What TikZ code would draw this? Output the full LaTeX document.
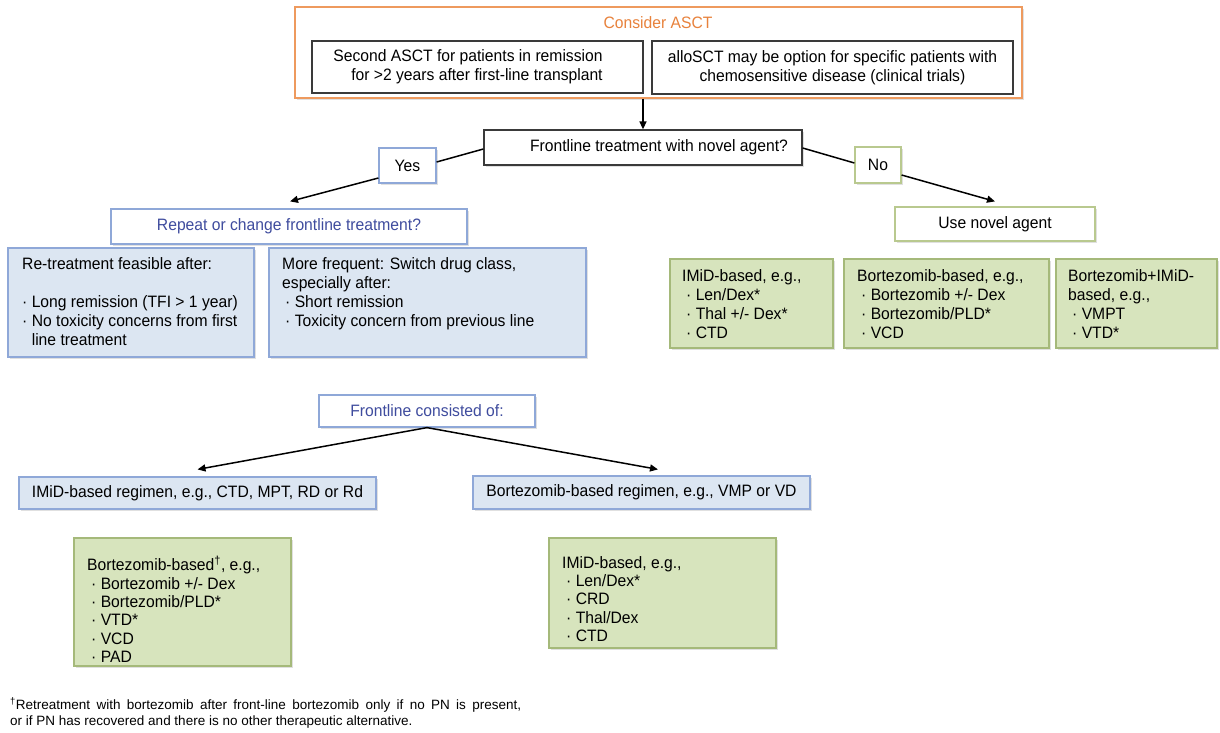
\documentclass[tikz,border=0pt]{standalone}
\usepackage{fontspec}
\setmainfont{Liberation Sans}[FakeStretch=0.95]
\newfontfamily\fnfont{Liberation Sans}
\usetikzlibrary{arrows.meta,calc,shadows}
\definecolor{ora}{HTML}{EE9A5E}
\definecolor{oratext}{HTML}{E8823C}
\definecolor{dgray}{HTML}{3A3A3A}
\definecolor{bluebd}{HTML}{8FA8D8}
\definecolor{bluefill}{HTML}{DCE6F2}
\definecolor{bluetxt}{HTML}{3F4C9E}
\definecolor{greenfill}{HTML}{D7E4BD}
\definecolor{greenbd}{HTML}{A5B97A}
\definecolor{greenbdl}{HTML}{B9C98F}
\begin{document}
\begin{tikzpicture}[x=1pt,y=-1pt,
  every node/.style={font=\fontsize{16.5}{19}\selectfont, inner sep=0pt},
  bx/.style 2 args={minimum width=#1, minimum height=#2},
  shd/.style={drop shadow={shadow xshift=1.5pt,shadow yshift=-1.5pt,opacity=0.3,fill=black!40}},
  dbox/.style={draw=dgray, line width=1.3pt, fill=white},
  obox/.style={draw=ora, line width=1.3pt, fill=white},
  wblue/.style={draw=bluebd, line width=1.2pt, fill=white},
  fblue/.style={draw=bluebd, line width=1.2pt, fill=bluefill},
  wgreen/.style={draw=greenbdl, line width=1.2pt, fill=white},
  fgreen/.style={draw=greenbd, line width=1.2pt, fill=greenfill},
  txt/.style={align=left, anchor=north west},
  btxt/.style={align=left, anchor=north west, font=\fontsize{16.5}{18.3}\selectfont},
  arr/.style={-{Triangle[length=8pt,width=7pt]}, line width=1.5pt},
  ln/.style={line width=1.5pt}
]
\useasboundingbox (0,0) rectangle (1220,732);
\fill[white] (0,0) rectangle (1220,732);

% top ASCT block
\node[obox,shd,bx={727}{91}] (asct) at (658.5,52.5) {};
\node[text=oratext] (asctt) at (658,23) {Consider ASCT};
\node[dbox,bx={331}{52},align=right] (sec) at (477.5,67) {Second ASCT for patients in remission\hspace*{19pt}\\for >2 years after first-line transplant\hspace*{19pt}};
\node[dbox,bx={361}{53},align=center] (allo) at (832.5,67.5) {alloSCT may be option for specific patients with\\chemosensitive disease (clinical trials)};

% decision
\node[dbox,shd,bx={318}{35}] (front) at (643,147.5) {\hspace*{32pt}Frontline treatment with novel agent?};
\node[wblue,shd,bx={57}{35}] (yes) at (407.5,165.5) {Yes};
\node[wgreen,shd,bx={46}{36}] (no) at (878,165) {No};
\node[wblue,shd,bx={356}{35},text=bluetxt] (rep) at (289,226.5) {Repeat or change frontline treatment?};
\node[wgreen,shd,bx={200}{34}] (novel) at (995,224) {Use novel agent};

% left blue boxes
\node[fblue,shd,bx={246}{109}] (retr) at (131,302.5) {};
\node[txt] (retrt) at (22,257) {Re-treatment feasible after:\\[19pt]· Long remission (TFI > 1 year)\\· No toxicity concerns from first\\\phantom{· }line treatment};
\node[fblue,shd,bx={317}{109}] (more) at (427.5,302.5) {};
\node[txt] (moret) at (282,257) {More frequent: Switch drug class,\\especially after:\\\hspace*{3pt}· Short remission\\\hspace*{3pt}· Toxicity concern from previous line};

% right green boxes
\node[fgreen,shd,bx={163}{89}] (g1) at (751.5,303.5) {};
\node[txt] (g1t) at (682,269) {IMiD-based, e.g.,\\\hspace*{4pt}· Len/Dex*\\\hspace*{4pt}· Thal +/- Dex*\\\hspace*{4pt}· CTD};
\node[fgreen,shd,bx={205}{89}] (g2) at (946.5,303.5) {};
\node[txt] (g2t) at (857,269) {Bortezomib-based, e.g.,\\\hspace*{4pt}· Bortezomib +/- Dex\\\hspace*{4pt}· Bortezomib/PLD*\\\hspace*{4pt}· VCD};
\node[fgreen,shd,bx={161}{89}] (g3) at (1136.5,303.5) {};
\node[txt] (g3t) at (1068,269) {Bortezomib+IMiD-\\based, e.g.,\\\hspace*{4pt}· VMPT\\\hspace*{4pt}· VTD*};

% frontline consisted
\node[wblue,shd,bx={216}{32},text=bluetxt] (fc) at (427,411) {Frontline consisted of:};
\node[fblue,shd,bx={357}{32}] (ireg) at (197.5,493) {IMiD-based regimen, e.g., CTD, MPT, RD or Rd};
\node[fblue,shd,bx={337}{33}] (breg) at (641.5,492.5) {Bortezomib-based regimen, e.g., VMP or VD};

% bottom green boxes
\node[fgreen,shd,bx={217}{128}] (g4) at (182.5,602) {};
\node[btxt] (g4t) at (87,556) {Bortezomib-based\textsuperscript{†}, e.g.,\\\hspace*{4pt}· Bortezomib +/- Dex\\\hspace*{4pt}· Bortezomib/PLD*\\\hspace*{4pt}· VTD*\\\hspace*{4pt}· VCD\\\hspace*{4pt}· PAD};
\node[fgreen,shd,bx={227}{110}] (g5) at (662.5,593) {};
\node[btxt] (g5t) at (562,556) {IMiD-based, e.g.,\\\hspace*{4pt}· Len/Dex*\\\hspace*{4pt}· CRD\\\hspace*{4pt}· Thal/Dex\\\hspace*{4pt}· CTD};

% footnote
\node[txt,font=\fnfont\fontsize{13.5}{15.5}\selectfont] (fn) at (10,697.5) {\makebox[511pt][s]{\textsuperscript{†}Retreatment with bortezomib after front-line bortezomib only if no PN is present,}\\or if PN has recovered and there is no other therapeutic alternative.};

% connectors
\draw[arr] (front.north |- asct.south) -- (front.north);
\draw[ln] ($(front.west)+(0,1.5)$) -- ($(yes.east)+(0,-3.5)$);
\draw[arr] ($(yes.west)+(0,12.5)$) -- ($(rep.north)+(1,-7)$);
\draw[ln] ($(front.east)+(0,0.5)$) -- ($(no.west)+(0,-2)$);
\draw[arr] ($(no.east)+(0,10)$) -- ($(novel.north)+(0,-5)$);
\draw[arr] (fc.south) -- ($(ireg.north)+(0,-7)$);
\draw[arr] (fc.south) -- ($(breg.north)+(16.5,-6)$);
\end{tikzpicture}
\end{document}
